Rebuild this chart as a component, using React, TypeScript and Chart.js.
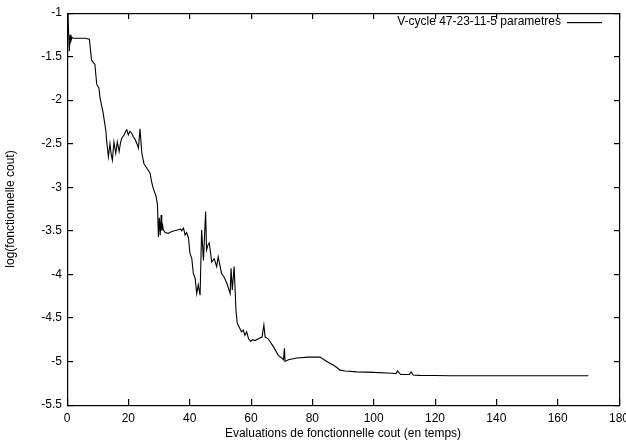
import React, { useEffect, useRef } from "react";
import { Chart, registerables } from "chart.js";

Chart.register(...registerables);

const seriesLabel = "V-cycle 47-23-11-5 parametres";
const xTitle = "Evaluations de fonctionnelle cout (en temps)";
const yTitle = "log(fonctionnelle cout)";

const evals: number[] = [
  0, 0.3, 0.5, 0.75, 1.0, 1.3, 1.6, 2, 4, 6, 7.3, 8.0, 8.6, 9.1, 9.7, 10.4, 10.8, 11.8, 12.7, 12.9,
  13.5, 14, 14.4, 14.8, 15.3, 15.9, 16.4, 17, 17.4, 17.8, 18.6, 19.1, 19.5, 20, 20.5, 21.1, 21.6, 22.2, 22.8, 23.3,
  23.8, 24.4, 25.1, 26, 27.1, 27.6, 28.1, 29, 29.5, 29.8, 30.1, 30.4, 30.7, 30.9, 31.2, 31.4, 32, 33, 34, 35,
  36, 37, 37.4, 38, 38.5, 39, 39.6, 40.1, 40.7, 41.2, 41.8, 42.3, 42.8, 43.4, 43.9, 44.5, 45.2, 45.5, 46, 46.4,
  47.2, 48, 48.8, 49.3, 50.4, 51.2, 52.1, 53.2, 53.5, 53.9, 54.5, 55.1, 55.5, 56.9, 57.5, 58, 58.6, 59.2, 59.9, 60.5,
  61.3, 62.9, 63.6, 64.2, 64.6, 65.6, 67.3, 68.9, 70, 70.6, 70.9, 71.1, 72.2, 74.9, 78.7, 80, 82.5, 84.7, 86.8, 88,
  89, 90.7, 94.5, 100, 105.9, 107.3, 107.8, 108.8, 110, 111.6, 112.2, 112.9, 113.5, 115, 120, 125, 140, 170,
];

const logCost: number[] = [
  -1.05, -1.0, -1.2, -1.44, -1.25, -1.32, -1.28, -1.29, -1.29, -1.29, -1.3, -1.54, -1.57, -1.59, -1.82, -1.86, -1.98, -2.15, -2.36, -2.46,
  -2.65, -2.5, -2.62, -2.69, -2.48, -2.61, -2.48, -2.59, -2.5, -2.44, -2.4, -2.36, -2.34, -2.4, -2.36, -2.38, -2.42, -2.45, -2.5, -2.55,
  -2.33, -2.61, -2.73, -2.78, -2.84, -2.94, -3.01, -3.1, -3.2, -3.57, -3.35, -3.55, -3.32, -3.5, -3.44, -3.49, -3.52, -3.53, -3.51, -3.5,
  -3.49, -3.48, -3.5, -3.47, -3.55, -3.52, -3.58, -3.76, -3.82, -3.99, -4.05, -4.22, -4.12, -4.24, -3.49, -3.84, -3.28, -3.72, -3.66, -3.64,
  -3.86, -3.82, -3.91, -3.8, -3.99, -4.03, -4.1, -4.22, -3.93, -4.18, -3.91, -4.41, -4.56, -4.66, -4.64, -4.7, -4.66, -4.74, -4.77, -4.75,
  -4.76, -4.73, -4.72, -4.58, -4.72, -4.74, -4.83, -4.93, -4.96, -4.98, -4.85, -5.0, -4.98, -4.96, -4.95, -4.95, -4.95, -5.0, -5.04, -5.07,
  -5.1, -5.11, -5.12, -5.125, -5.135, -5.14, -5.11, -5.15, -5.15, -5.15, -5.12, -5.155, -5.158, -5.16, -5.162, -5.164, -5.165, -5.165,
];

const xTicks: number[] = [0, 20, 40, 60, 80, 100, 120, 140, 160, 180];
const yTicks: number[] = [-1, -1.5, -2, -2.5, -3, -3.5, -4, -4.5, -5, -5.5];

const FONT = "'Liberation Sans', Arial, sans-serif";
const FS = 12;

const framePlugin = {
  id: "gnuFrame",
  afterDraw(chart: any) {
    const ctx: CanvasRenderingContext2D = chart.ctx;
    const area = chart.chartArea;
    const sx = chart.scales.x;
    const sy = chart.scales.y;
    const L = Math.floor(area.left);
    const R = Math.floor(area.right);
    const T = Math.floor(area.top);
    const B = Math.floor(area.bottom);
    const tl = 6;
    ctx.save();
    ctx.fillStyle = "#000000";
    ctx.fillRect(L, T, R - L + 1, 1.2);
    ctx.fillRect(L, B, R - L + 1, 1.2);
    ctx.fillRect(L, T, 1.2, B - T + 1);
    ctx.fillRect(R, T, 1.2, B - T + 1);
    for (const v of xTicks) {
      const px = Math.floor(sx.getPixelForValue(v));
      ctx.fillRect(px, B - tl, 1.2, tl);
      ctx.fillRect(px, T, 1.2, tl);
    }
    for (const v of yTicks) {
      const py = Math.floor(sy.getPixelForValue(v));
      ctx.fillRect(L, py, tl, 1.2);
      ctx.fillRect(R - tl + 1, py, tl, 1.2);
    }
    ctx.font = `${FS}px ${FONT}`;
    ctx.textAlign = "right";
    ctx.textBaseline = "middle";
    const ly = T + 9;
    ctx.fillText(seriesLabel, R - 58, ly);
    ctx.fillRect(R - 52, ly, 35, 1.2);
    ctx.restore();
  },
};

export default function App() {
  const ref = useRef<HTMLCanvasElement | null>(null);
  useEffect(() => {
    if (!ref.current) return;
    const points = evals.map((x, i) => ({ x, y: logCost[i] }));
    const chart = new Chart(ref.current, {
      type: "line",
      data: {
        datasets: [
          {
            label: seriesLabel,
            data: points,
            borderColor: "#000",
            borderWidth: 1.1,
            pointRadius: 0,
            fill: false,
            tension: 0,
          },
        ],
      },
      options: {
        animation: false,
        responsive: false,
        maintainAspectRatio: false,
        layout: { padding: { left: 0, top: 13, right: 7, bottom: 0 } },
        plugins: { legend: { display: false }, tooltip: { enabled: false } },
        scales: {
          x: {
            type: "linear",
            min: 0,
            max: 180,
            afterFit: (s: any) => {
              s.height = 39;
              s.paddingLeft = 0;
              s.paddingRight = 0;
            },
            afterBuildTicks: (s: any) => {
              s.ticks = xTicks.map((v) => ({ value: v }));
            },
            grid: { display: false, drawTicks: false },
            border: { display: false },
            ticks: {
              color: "#000",
              font: { family: FONT, size: FS },
              padding: 6,
              maxRotation: 0,
              callback: (v: any) => String(v),
            },
            title: {
              display: true,
              text: xTitle,
              color: "#000",
              font: { family: FONT, size: FS },
              padding: { top: 0, bottom: 3 },
            },
          },
          y: {
            type: "linear",
            min: -5.5,
            max: -1,
            afterFit: (s: any) => {
              s.width = 67;
              s.paddingTop = 0;
              s.paddingBottom = 0;
            },
            afterBuildTicks: (s: any) => {
              s.ticks = yTicks.map((v) => ({ value: v }));
            },
            grid: { display: false, drawTicks: false },
            border: { display: false },
            ticks: {
              color: "#000",
              font: { family: FONT, size: FS },
              padding: 5,
              callback: (v: any) => String(v),
            },
            title: {
              display: true,
              text: yTitle,
              color: "#000",
              font: { family: FONT, size: FS },
              padding: { top: 3, bottom: 0 },
            },
          },
        },
      },
      plugins: [framePlugin],
    });
    return () => chart.destroy();
  }, []);
  return (
    <div style={{ position: "fixed", left: 0, top: 0, width: 626, height: 444, background: "#fff" }}>
      <canvas ref={ref} width={626} height={444} style={{ width: 626, height: 444 }} />
    </div>
  );
}
